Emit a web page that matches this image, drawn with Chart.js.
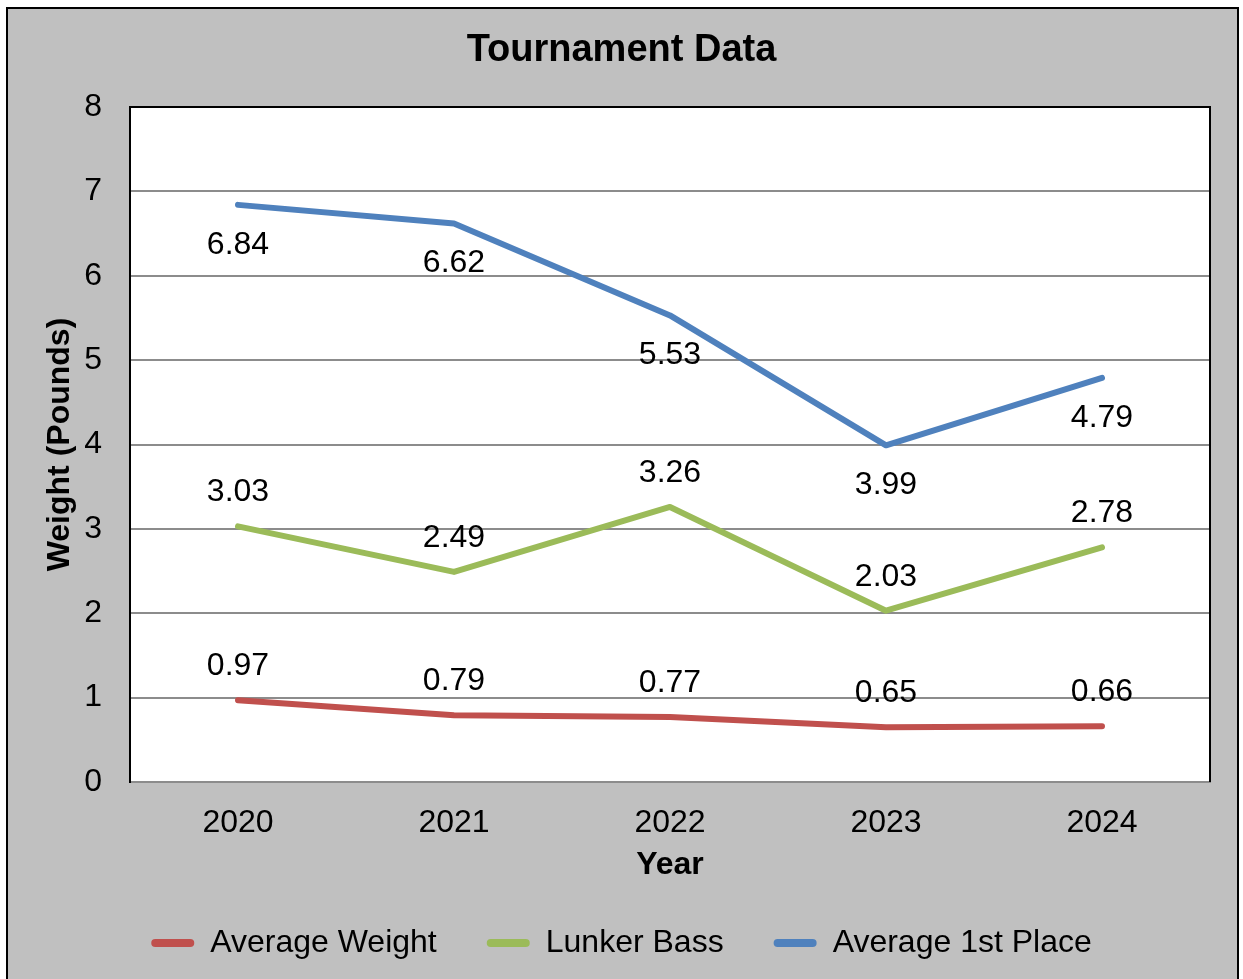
<!DOCTYPE html>
<html>
<head>
<meta charset="utf-8">
<script src="https://cdn.jsdelivr.net/npm/chart.js@4"></script>
<style>
  html, body { margin: 0; padding: 0; background: #fff; }
  #wrap { width: 1243px; height: 979px; }
</style>
</head>
<body>
<div id="wrap"><canvas id="tourneyChart" width="1243" height="979"></canvas></div>
<script>
// data
const years = ['2020', '2021', '2022', '2023', '2024'];
const avgWeight = [0.97, 0.79, 0.77, 0.65, 0.66];
const lunkerBass = [3.03, 2.49, 3.26, 2.03, 2.78];
const avgFirst = [6.84, 6.62, 5.53, 3.99, 4.79];
const yTicks = [0, 1, 2, 3, 4, 5, 6, 7, 8];

const FONT = '"Liberation Sans", Arial, sans-serif';

// gray frame, white plot area, black outline
const framePlugin = {
  id: 'frame',
  beforeDraw(chart) {
    const c = chart.ctx;
    const a = chart.chartArea;
    c.save();
    c.fillStyle = '#fff';
    c.fillRect(0, 0, chart.width, chart.height);
    c.fillStyle = '#c0c0c0';
    c.fillRect(7, 8, 1231, 990);
    c.strokeStyle = '#000';
    c.lineWidth = 2;
    c.strokeRect(7, 8, 1231, 990);
    c.fillStyle = '#fff';
    c.fillRect(a.left, a.top, a.right - a.left, a.bottom - a.top);
    c.restore();
  },
  afterDraw(chart) {
    const c = chart.ctx;
    const a = chart.chartArea;
    c.save();
    c.strokeStyle = '#000';
    c.lineWidth = 2;
    c.beginPath();
    c.moveTo(a.left, a.bottom);
    c.lineTo(a.left, a.top);
    c.lineTo(a.right, a.top);
    c.lineTo(a.right, a.bottom);
    c.stroke();
    c.restore();
  }
};

// value labels: blue below the line, the others above
const valueLabels = {
  id: 'valueLabels',
  afterDatasetsDraw(chart) {
    const c = chart.ctx;
    c.save();
    c.font = '32px ' + FONT;
    c.fillStyle = '#000';
    c.textAlign = 'center';
    c.textBaseline = 'middle';
    chart.data.datasets.forEach((ds, i) => {
      const shift = i === 2 ? 40 : -34;
      chart.getDatasetMeta(i).data.forEach((pt, j) => {
        c.fillText(ds.data[j].toFixed(2), pt.x, pt.y + shift);
      });
    });
    c.restore();
  }
};

const lineStyle = (color) => ({
  borderColor: color,
  backgroundColor: color,
  borderWidth: 6,
  pointRadius: 0,
  tension: 0,
  borderCapStyle: 'round',
  borderJoinStyle: 'round',
  fill: false
});

new Chart(document.getElementById('tourneyChart'), {
  type: 'line',
  data: {
    labels: years,
    datasets: [
      Object.assign({ label: 'Average Weight', data: avgWeight }, lineStyle('#c0504d')),
      Object.assign({ label: 'Lunker Bass', data: lunkerBass }, lineStyle('#9bbb59')),
      Object.assign({ label: 'Average 1st Place', data: avgFirst }, lineStyle('#4f81bd'))
    ]
  },
  options: {
    responsive: false,
    animation: false,
    layout: { padding: { left: 33, right: 33, top: 0, bottom: 10 } },
    plugins: {
      tooltip: { enabled: false },
      title: {
        display: true,
        text: 'Tournament Data',
        color: '#000',
        font: { family: FONT, size: 38, weight: 'bold' },
        padding: { top: 28, bottom: 33.4 }
      },
      legend: {
        position: 'bottom',
        labels: {
          color: '#000',
          font: { family: FONT, size: 32 },
          boxWidth: 43,
          boxHeight: 8,
          padding: 50,
          useBorderRadius: true,
          borderRadius: 4,
          generateLabels(chart) {
            return Chart.defaults.plugins.legend.labels.generateLabels(chart)
              .map(l => Object.assign(l, { lineWidth: 0 }));
          }
        }
      }
    },
    scales: {
      x: {
        offset: true,
        grid: { display: false, drawTicks: false },
        border: { color: '#8c8c8c', width: 2 },
        ticks: { color: '#000', font: { family: FONT, size: 32 }, padding: 22 },
        title: {
          display: true,
          text: 'Year',
          color: '#000',
          font: { family: FONT, size: 32, weight: 'bold' },
          padding: { top: 7, bottom: -7 }
        },
        afterFit(s) { s.height = 95; }
      },
      y: {
        min: 0,
        max: 8,
        afterBuildTicks(s) { s.ticks = yTicks.map(v => ({ value: v })); },
        grid: { color: '#8c8c8c', lineWidth: 2, drawTicks: false },
        border: { color: '#000', width: 2 },
        ticks: { color: '#000', font: { family: FONT, size: 32 }, padding: 28 },
        title: {
          display: true,
          text: 'Weight (Pounds)',
          color: '#000',
          font: { family: FONT, size: 32, weight: 'bold' },
          padding: { top: 8, bottom: 4 }
        },
        afterFit(s) { s.width = 97; }
      }
    }
  },
  plugins: [framePlugin, valueLabels]
});
</script>
</body>
</html>
